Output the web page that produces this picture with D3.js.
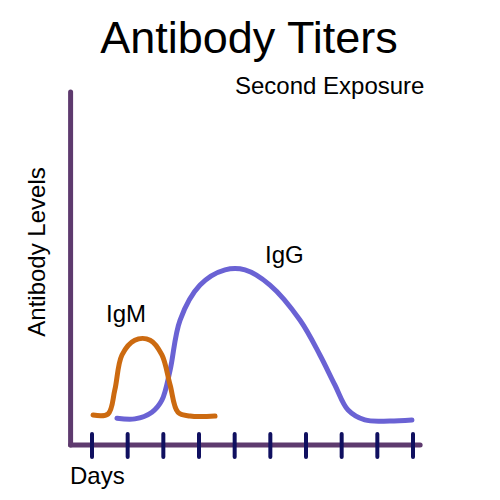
<!DOCTYPE html>
<html lang="en">
<head>
<meta charset="utf-8">
<title>Antibody Titers</title>
<script src="https://cdn.jsdelivr.net/npm/d3@7"></script>
<style>body{margin:0;background:#fff}text{font-family:"Liberation Sans",Arial,sans-serif}</style>
</head>
<body>
<script>
// days on x, level 0..100 on y
var tickDays = [1, 2, 3, 4, 5, 6, 7, 8, 9, 10];
var igmDays = [1.03, 1.45, 1.64, 1.84, 2.2, 2.63, 2.96, 3.19, 3.41, 3.75, 4.45];
var igmLevels = [8.5, 8.8, 15.6, 25.5, 29.7, 29.7, 25.5, 17, 9.3, 8.2, 8.2];
var iggDays = [1.7, 2.2, 2.68, 2.96, 3.19, 3.47, 4.03, 4.73, 5.29, 5.99, 6.83, 7.39, 7.81, 8.18, 8.65, 9.35, 9.97];
var iggLevels = [7.6, 7.4, 9.3, 12.7, 21.2, 35.4, 45.3, 49.6, 49.6, 45.3, 35.4, 25.5, 17, 9.9, 7.1, 6.8, 7.1];

var w = 500, h = 500;
var svg = d3.select("body").append("svg").attr("width", w).attr("height", h);

var x = d3.scaleLinear().domain([1, 10]).range([92, 413]);
var y = d3.scaleLinear().domain([0, 100]).range([445, 92]);

var line = d3.line()
  .x(function(d) { return x(d[0]); })
  .y(function(d) { return y(d[1]); })
  .curve(d3.curveCatmullRom);

// axes
svg.append("line").attr("x1", x(0.4)).attr("x2", x(0.4)).attr("y1", y(100)).attr("y2", y(0))
  .attr("stroke", "#5e3a6e").attr("stroke-width", 5).attr("stroke-linecap", "round");
svg.append("line").attr("x1", x(0.4)).attr("x2", x(10.2)).attr("y1", y(0)).attr("y2", y(0))
  .attr("stroke", "#5e3a6e").attr("stroke-width", 5).attr("stroke-linecap", "round");

svg.selectAll(".tick").data(tickDays).enter().append("line")
  .attr("x1", function(d) { return x(d); }).attr("x2", function(d) { return x(d); })
  .attr("y1", 434).attr("y2", 457)
  .attr("stroke", "#101060").attr("stroke-width", 4).attr("stroke-linecap", "round");

svg.append("path").datum(d3.zip(iggDays, iggLevels)).attr("d", line)
  .attr("fill", "none").attr("stroke", "#6a62d4").attr("stroke-width", 5).attr("stroke-linecap", "round");
svg.append("path").datum(d3.zip(igmDays, igmLevels)).attr("d", line)
  .attr("fill", "none").attr("stroke", "#cc6a10").attr("stroke-width", 5).attr("stroke-linecap", "round");

svg.append("text").attr("x", 249).attr("y", 53).attr("text-anchor", "middle")
  .attr("font-size", 45).text("Antibody Titers");
svg.append("text").attr("x", 235).attr("y", 94).attr("font-size", 24).text("Second Exposure");
svg.append("text").attr("transform", "translate(45,252) rotate(-90)").attr("text-anchor", "middle")
  .attr("font-size", 24).text("Antibody Levels");
svg.append("text").attr("x", 70).attr("y", 484).attr("font-size", 24).text("Days");
svg.append("text").attr("x", 106).attr("y", 322).attr("font-size", 24).text("IgM");
svg.append("text").attr("x", 265).attr("y", 263).attr("font-size", 24).text("IgG");
</script>
</body>
</html>
